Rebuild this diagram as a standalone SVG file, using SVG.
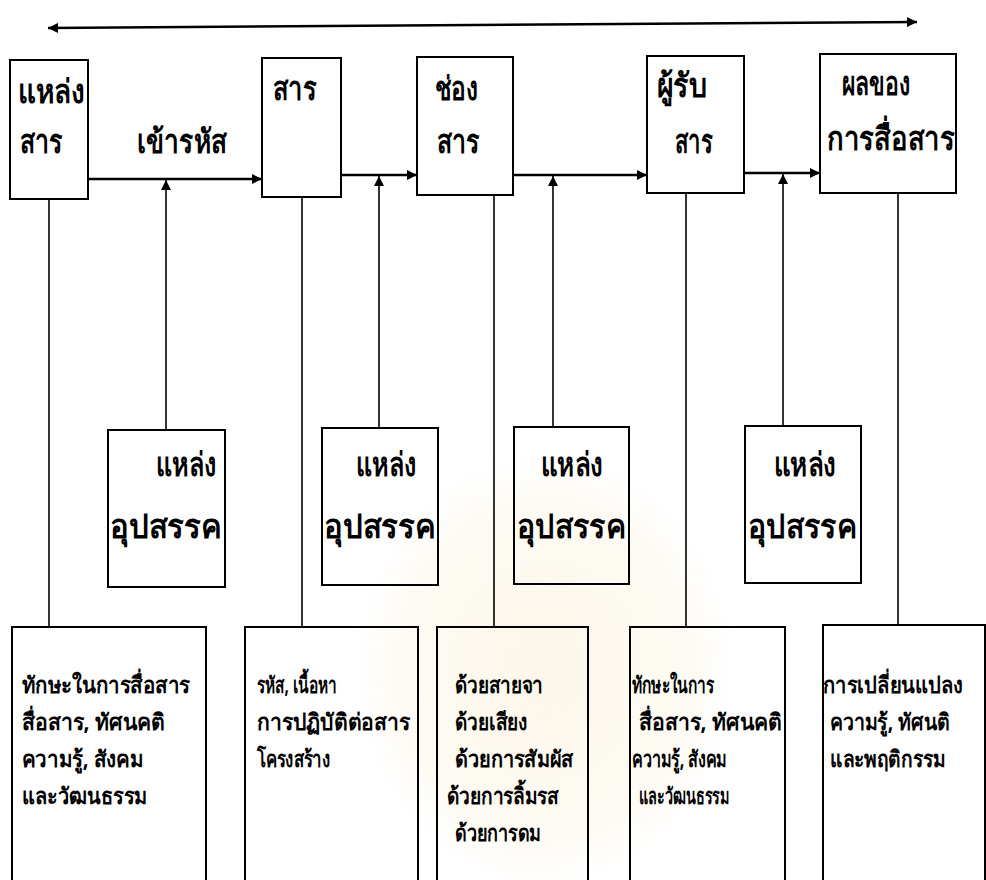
<svg xmlns="http://www.w3.org/2000/svg" width="986" height="880" viewBox="0 0 986 880">
  <defs>
    <marker id="head" viewBox="0 0 10 10" refX="10" refY="5" markerWidth="12" markerHeight="10" markerUnits="userSpaceOnUse" orient="auto-start-reverse">
      <path d="M0,0 L10,5 L0,10 z" fill="#000"/>
    </marker>
    <radialGradient id="seal" cx="0.5" cy="0.5" r="0.5">
      <stop offset="0" stop-color="#f8efd4" stop-opacity="0.55"/>
      <stop offset="0.75" stop-color="#faf3e0" stop-opacity="0.35"/>
      <stop offset="1" stop-color="#ffffff" stop-opacity="0"/>
    </radialGradient>
    <style>
      .box { fill: none; stroke: #000; stroke-width: 2; }
      .flow { stroke: #000; stroke-width: 2.5; fill: none; }
      .drop { stroke: #000; stroke-width: 1.6; fill: none; }
      text { font-family: "Noto Sans", "DejaVu Sans", sans-serif; font-weight: bold; fill: #000; }
      .big { font-size: 33px; }
      .mid { font-size: 33px; }
      .small { font-size: 23px; }
    </style>
  </defs>

  <rect width="986" height="880" fill="#fff"/>
  <!-- faint seal in the background -->
  <ellipse cx="545" cy="670" rx="200" ry="230" fill="url(#seal)"/>

  <!-- connectors -->
  <g id="connectors">
    <line class="flow" x1="48" y1="28" x2="917" y2="22" marker-start="url(#head)" marker-end="url(#head)"/>
    <line class="flow" x1="88" y1="179" x2="262" y2="179" marker-end="url(#head)"/>
    <line class="flow" x1="341" y1="175" x2="417" y2="175" marker-end="url(#head)"/>
    <line class="flow" x1="513" y1="175" x2="647" y2="175" marker-end="url(#head)"/>
    <line class="flow" x1="744" y1="173" x2="820" y2="173" marker-end="url(#head)"/>
    <line class="drop" x1="166" y1="430" x2="166" y2="180" marker-end="url(#head)"/>
    <line class="drop" x1="379" y1="428" x2="379" y2="176" marker-end="url(#head)"/>
    <line class="drop" x1="553" y1="427" x2="553" y2="176" marker-end="url(#head)"/>
    <line class="drop" x1="783" y1="426" x2="783" y2="174" marker-end="url(#head)"/>
    <line class="drop" x1="49" y1="199" x2="49" y2="627"/>
    <line class="drop" x1="302" y1="197" x2="302" y2="627"/>
    <line class="drop" x1="494" y1="195" x2="494" y2="627"/>
    <line class="drop" x1="686" y1="193" x2="686" y2="627"/>
    <line class="drop" x1="898" y1="193" x2="898" y2="625"/>
  </g>

  <text class="big" x="137" y="153" textLength="90" lengthAdjust="spacingAndGlyphs">เข้ารหัส</text>

  <!-- main chain -->
  <g id="source">
    <rect class="box" x="10" y="60" width="78" height="139"/>
    <text class="big" x="18" y="103" textLength="67" lengthAdjust="spacingAndGlyphs">แหล่ง</text>
    <text class="big" x="20" y="153" textLength="43" lengthAdjust="spacingAndGlyphs">สาร</text>
  </g>
  <g id="message">
    <rect class="box" x="262" y="58" width="79" height="139"/>
    <text class="big" x="273" y="100" textLength="44" lengthAdjust="spacingAndGlyphs">สาร</text>
  </g>
  <g id="channel">
    <rect class="box" x="417" y="57" width="96" height="138"/>
    <text class="big" x="435" y="100" textLength="43" lengthAdjust="spacingAndGlyphs">ช่อง</text>
    <text class="big" x="437" y="153" textLength="43" lengthAdjust="spacingAndGlyphs">สาร</text>
  </g>
  <g id="receiver">
    <rect class="box" x="647" y="56" width="97" height="137"/>
    <text class="big" x="657" y="97" textLength="50" lengthAdjust="spacingAndGlyphs">ผู้รับ</text>
    <text class="big" x="675" y="153" textLength="38" lengthAdjust="spacingAndGlyphs">สาร</text>
  </g>
  <g id="effect">
    <rect class="box" x="820" y="54" width="136" height="139"/>
    <text class="big" x="842" y="95" textLength="68" lengthAdjust="spacingAndGlyphs">ผลของ</text>
    <text class="big" x="827" y="150" textLength="128" lengthAdjust="spacingAndGlyphs">การสื่อสาร</text>
  </g>

  <!-- noise sources -->
  <g id="noise-1">
    <rect class="box" x="108" y="430" width="117" height="157"/>
    <text class="mid" x="156" y="476" textLength="60" lengthAdjust="spacingAndGlyphs">แหล่ง</text>
    <text class="mid" x="110" y="538" textLength="112" lengthAdjust="spacingAndGlyphs">อุปสรรค</text>
  </g>
  <g id="noise-2">
    <rect class="box" x="322" y="428" width="116" height="157"/>
    <text class="mid" x="356" y="476" textLength="60" lengthAdjust="spacingAndGlyphs">แหล่ง</text>
    <text class="mid" x="324" y="538" textLength="112" lengthAdjust="spacingAndGlyphs">อุปสรรค</text>
  </g>
  <g id="noise-3">
    <rect class="box" x="514" y="427" width="115" height="157"/>
    <text class="mid" x="541" y="476" textLength="62" lengthAdjust="spacingAndGlyphs">แหล่ง</text>
    <text class="mid" x="517" y="538" textLength="109" lengthAdjust="spacingAndGlyphs">อุปสรรค</text>
  </g>
  <g id="noise-4">
    <rect class="box" x="745" y="426" width="116" height="157"/>
    <text class="mid" x="774" y="476" textLength="62" lengthAdjust="spacingAndGlyphs">แหล่ง</text>
    <text class="mid" x="748" y="538" textLength="109" lengthAdjust="spacingAndGlyphs">อุปสรรค</text>
  </g>

  <!-- detail boxes -->
  <g id="detail-source">
    <rect class="box" x="12" y="627" width="194" height="260"/>
    <text class="small" x="22" y="693" textLength="168" lengthAdjust="spacingAndGlyphs">ทักษะในการสื่อสาร</text>
    <text class="small" x="22" y="730" textLength="143" lengthAdjust="spacingAndGlyphs">สื่อสาร, ทัศนคติ</text>
    <text class="small" x="22" y="767" textLength="121" lengthAdjust="spacingAndGlyphs">ความรู้, สังคม</text>
    <text class="small" x="22" y="804" textLength="125" lengthAdjust="spacingAndGlyphs">และวัฒนธรรม</text>
  </g>
  <g id="detail-message">
    <rect class="box" x="245" y="627" width="173" height="260"/>
    <text class="small" x="257" y="693" textLength="80" lengthAdjust="spacingAndGlyphs">รหัส, เนื้อหา</text>
    <text class="small" x="257" y="730" textLength="153" lengthAdjust="spacingAndGlyphs">การปฏิบัติต่อสาร</text>
    <text class="small" x="257" y="767" textLength="73" lengthAdjust="spacingAndGlyphs">โครงสร้าง</text>
  </g>
  <g id="detail-channel">
    <rect class="box" x="437" y="627" width="151" height="260"/>
    <text class="small" x="455" y="693" textLength="88" lengthAdjust="spacingAndGlyphs">ด้วยสายจา</text>
    <text class="small" x="455" y="730" textLength="72" lengthAdjust="spacingAndGlyphs">ด้วยเสียง</text>
    <text class="small" x="455" y="767" textLength="118" lengthAdjust="spacingAndGlyphs">ด้วยการสัมผัส</text>
    <text class="small" x="447" y="804" textLength="112" lengthAdjust="spacingAndGlyphs">ด้วยการลิ้มรส</text>
    <text class="small" x="455" y="841" textLength="86" lengthAdjust="spacingAndGlyphs">ด้วยการดม</text>
  </g>
  <g id="detail-receiver">
    <rect class="box" x="630" y="627" width="155" height="260"/>
    <text class="small" x="632" y="693" textLength="82" lengthAdjust="spacingAndGlyphs">ทักษะในการ</text>
    <text class="small" x="639" y="730" textLength="143" lengthAdjust="spacingAndGlyphs">สื่อสาร, ทัศนคติ</text>
    <text class="small" x="632" y="767" textLength="95" lengthAdjust="spacingAndGlyphs">ความรู้, สังคม</text>
    <text class="small" x="639" y="804" textLength="90" lengthAdjust="spacingAndGlyphs">และวัฒนธรรม</text>
  </g>
  <g id="detail-effect">
    <rect class="box" x="823" y="625" width="162" height="262"/>
    <text class="small" x="823" y="693" textLength="140" lengthAdjust="spacingAndGlyphs">การเปลี่ยนแปลง</text>
    <text class="small" x="830" y="730" textLength="120" lengthAdjust="spacingAndGlyphs">ความรู้, ทัศนติ</text>
    <text class="small" x="830" y="767" textLength="115" lengthAdjust="spacingAndGlyphs">และพฤติกรรม</text>
  </g>
</svg>
